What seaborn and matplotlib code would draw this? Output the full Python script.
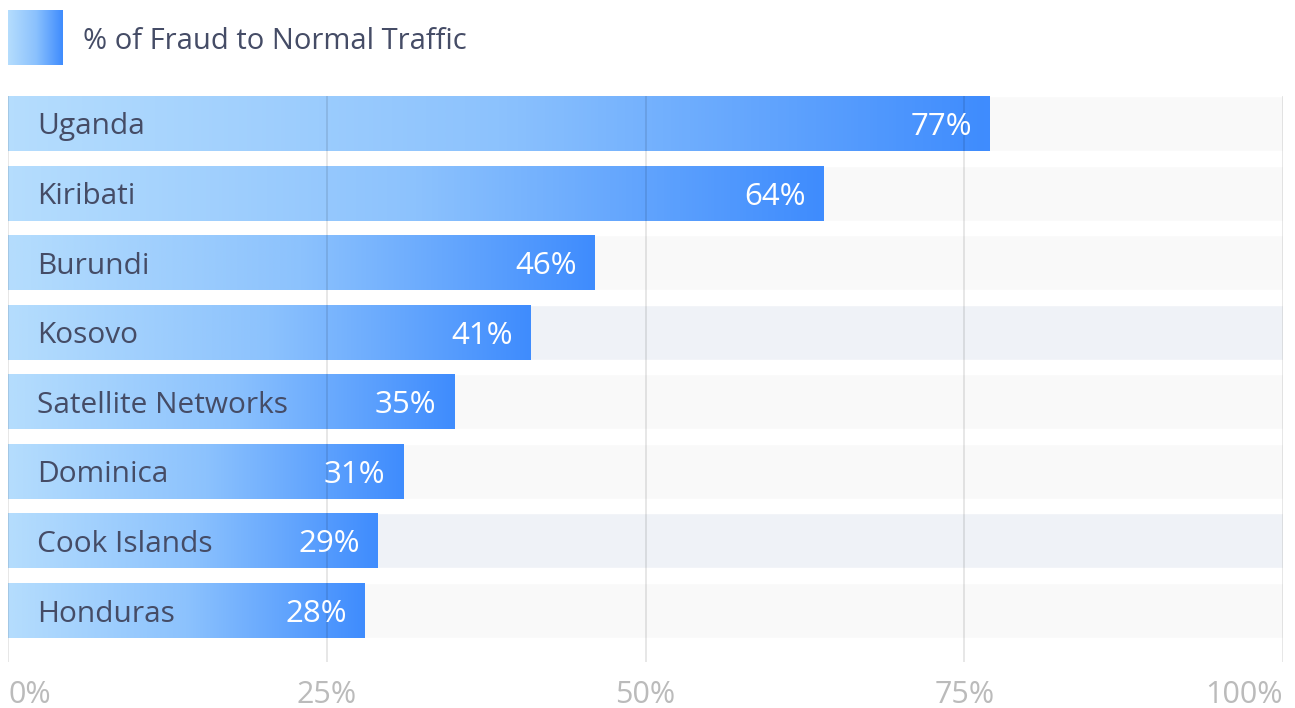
import numpy as np
import pandas as pd
import matplotlib
matplotlib.use("Agg")
import matplotlib.pyplot as plt
import seaborn as sns
from matplotlib.colors import LinearSegmentedColormap

# Data
countries = ["Uganda", "Kiribati", "Burundi", "Kosovo", "Satellite Networks",
             "Dominica", "Cook Islands", "Honduras"]
fraud_pct = [77, 64, 46, 41, 35, 31, 29, 28]
track_colors = ["#f9f9f9", "#f9f9f9", "#f9f9f9", "#eff2f7", "#f9f9f9",
                "#f9f9f9", "#eff2f7", "#f9f9f9"]
tick_values = [0, 25, 50, 75, 100]
tick_labels = ["0%", "25%", "50%", "75%", "100%"]
legend_label = "% of Fraud to Normal Traffic"

sns.set_theme(style="white")
plt.rcParams["font.family"] = ["Open Sans", "DejaVu Sans"]

TEXT = "#454c66"
TICK = "#bbbbbb"
grad = LinearSegmentedColormap.from_list("fraud", ["#b5ddfd", "#8cc2fd", "#3f8cfe"])

df = pd.DataFrame({"country": countries, "pct": fraud_pct,
                   "full": [100] * len(countries)})

fig = plt.figure(figsize=(12.95, 7.08), dpi=100)
ax = fig.add_axes([8 / 1295, 1 - 662 / 708, 1275 / 1295, 566 / 708])

# Background tracks
sns.barplot(data=df, y="country", x="full", hue="country", palette=track_colors,
            legend=False, width=0.79, ax=ax, saturation=1, zorder=1)
n_track = len(ax.patches)

# Value bars
sns.barplot(data=df, y="country", x="pct", color="#3f8cfe", width=0.79,
            ax=ax, saturation=1, zorder=2)

gradient = np.linspace(0, 1, 256).reshape(1, -1)
for p in ax.patches[n_track:]:
    x0, y0 = p.get_x(), p.get_y()
    w, h = p.get_width(), p.get_height()
    p.set_facecolor("none")
    p.set_edgecolor("none")
    ax.imshow(gradient, cmap=grad, aspect="auto", interpolation="bicubic",
              extent=[x0, x0 + w, y0 + h, y0], zorder=2)

ax.set_xlim(0, 100)
ax.set_ylim(7.74, -0.395)

# Labels inside bars
for i, (name, v) in enumerate(zip(countries, fraud_pct)):
    ax.text(2.27, i, name, va="center_baseline", ha="left", fontsize=21.5, color=TEXT, zorder=4)
    ax.annotate(f"{v}%", xy=(v, i), xytext=(-13, 0), textcoords="offset points",
                va="center_baseline", ha="right", fontsize=22.5, color="white", zorder=4)

# Vertical grid lines drawn over bars
for t in tick_values:
    ax.axvline(t, color="#000000", alpha=0.1, lw=1.3, zorder=3)

ax.set_xticks(tick_values)
ax.set_xticklabels(tick_labels)
for lab, ha in zip(ax.get_xticklabels(), ["left", "center", "center", "center", "right"]):
    lab.set_ha(ha)
ax.tick_params(axis="x", length=0, pad=13, labelsize=22, labelcolor=TICK)
ax.set_yticks([])
ax.set_xlabel("")
ax.set_ylabel("")
for s in ax.spines.values():
    s.set_visible(False)

# Legend with gradient swatch
lax = fig.add_axes([8 / 1295, 1 - 65 / 708, 55 / 1295, 55 / 708])
lax.imshow(gradient, cmap=grad, aspect="auto", interpolation="bicubic")
lax.axis("off")
fig.text(83 / 1295, 1 - 38 / 708, legend_label, va="center_baseline", ha="left",
         fontsize=21, color=TEXT)

fig.savefig("out.png", dpi=100)
